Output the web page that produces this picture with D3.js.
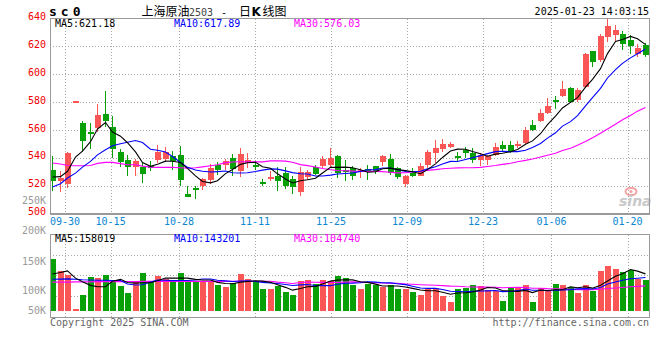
<!DOCTYPE html>
<html><head><meta charset="utf-8">
<script src="https://cdn.jsdelivr.net/npm/d3@7/dist/d3.min.js"></script>
<style>body{margin:0;background:#fff}svg{display:block}</style>
</head><body><svg id="c" width="660" height="360"></svg>
<script>
// ---------- data ----------
const dates = ["09-26","09-27","09-30","10-08","10-09","10-10","10-11","10-14","10-15","10-16",
"10-17","10-18","10-21","10-22","10-23","10-24","10-25","10-28","10-29","10-30",
"10-31","11-01","11-04","11-05","11-06","11-07","11-08","11-11","11-12","11-13",
"11-14","11-15","11-18","11-19","11-20","11-21","11-22","11-25","11-26","11-27",
"11-28","11-29","12-02","12-03","12-04","12-05","12-06","12-09","12-10","12-11",
"12-12","12-13","12-16","12-17","12-18","12-19","12-20","12-23","12-24","12-25",
"12-26","12-27","12-30","12-31","01-02","01-03","01-06","01-07","01-08","01-09",
"01-10","01-13","01-14","01-15","01-16","01-17","01-20","01-21","01-22","01-23"];
const open = [531.4,523.1,521.4,580.5,565.0,558.3,561.2,571.6,562.2,544.5,
538.6,533.6,533.5,533.8,538.1,539.0,541.4,542.1,514.3,518.1,
519.5,524.3,535.0,535.0,540.2,530.2,536.2,534.5,522.4,524.8,
526.7,529.0,525.0,515.2,526.0,533.3,534.3,535.0,541.4,531.4,
532.6,529.5,531.9,533.8,536.9,539.3,532.6,521.4,529.0,527.1,
535.0,543.3,546.4,547.6,541.0,545.7,543.3,538.1,538.1,542.1,
549.3,549.3,548.6,550.5,563.6,566.4,572.4,581.4,584.3,590.2,
581.4,591.0,616.4,610.0,626.7,627.9,629.0,624.8,614.8,620.7];
const high = [541.4,530.7,544.3,580.5,566.5,565.0,578.6,587.6,570.0,546.0,
541.8,538.8,536.5,537.9,549.3,547.6,545.2,548.6,519.5,519.5,
525.5,535.7,536.7,539.3,542.9,546.9,543.3,537.4,525.0,530.2,
533.3,533.3,526.7,533.3,531.4,535.0,541.0,546.9,542.1,538.6,
533.8,532.6,535.0,534.3,542.1,542.6,533.3,527.9,532.6,536.2,
545.7,552.9,553.6,551.0,544.5,548.0,546.9,543.3,542.1,550.5,
551.7,551.7,552.4,562.4,567.1,574.8,582.6,584.3,595.0,591.0,
589.8,615.2,616.6,629.0,639.8,635.0,630.9,627.9,621.9,622.4];
const low = [516.0,515.2,518.3,580.5,544.5,546.0,558.2,562.4,540.0,533.3,
526.7,526.7,522.2,530.2,536.2,536.7,531.4,519.5,511.8,510.5,
516.7,521.4,527.9,531.4,527.1,526.2,532.6,531.4,519.5,523.1,
516.0,517.6,514.3,512.9,524.3,527.9,532.6,532.6,525.5,523.1,
524.3,525.5,524.3,528.6,533.8,527.9,524.8,519.0,526.2,526.7,
532.6,536.2,544.5,546.7,537.4,539.8,536.2,533.8,535.0,541.0,
544.5,543.3,546.9,550.0,559.5,565.5,571.4,575.0,583.3,579.0,
580.2,590.2,605.2,608.8,623.1,623.1,617.1,614.8,612.4,612.4];
const close = [523.1,525.2,543.3,580.5,551.7,557.1,570.7,566.6,546.5,536.7,
533.5,537.9,528.1,533.0,544.5,544.5,537.4,523.8,511.8,517.4,
524.5,532.6,531.4,537.4,532.1,542.9,538.6,533.1,521.4,526.2,
523.1,520.0,518.8,529.5,529.5,528.6,539.0,539.5,529.0,530.2,
526.7,531.4,530.7,530.7,541.0,529.0,526.0,527.1,526.7,533.8,
543.8,546.9,550.0,550.0,540.5,543.3,538.6,542.1,541.0,548.1,
546.2,544.5,550.0,560.0,560.0,571.9,577.1,580.5,589.3,580.2,
588.6,614.8,608.8,627.5,634.3,632.1,621.9,620.0,618.8,613.6];
const volume = [222800,171000,153800,7300,67700,145200,140900,153800,128000,106500,
76300,128000,162500,128000,149600,136600,123700,162500,128000,123700,
123700,123700,110800,102100,119400,158200,136600,128000,93500,93500,
106500,80600,67700,128000,132300,115100,132300,129300,149600,140900,
110800,93500,115100,110800,102100,110800,93500,93500,80600,67700,
93500,93500,63400,37500,93500,97800,110800,106500,89200,84900,
41800,102100,97800,110800,37500,97800,89200,115100,110800,102100,
76300,110800,84900,172400,192700,179700,166800,175400,136600,133600];
// moving-average values at the start of the window (their earlier history is off-chart)
const ma5Lead = [526.2,526.5,530.3,540.5];
const ma10Lead = [519.0,521.4,525.5,529.0,533.3,537.4,542.1,545.7,548.6];
const ma30Lead = [536.3,535.5,534.5,534.3,534.3,534.5,536.0,536.7,536.7,535.8,535.0,535.0,534.0,533.3,533.1,
533.1,533.1,532.8,532.6,532.8,533.5,534.3,535.0,536.5,537.0,537.1,537.1,537.1,537.1];
const vma5Lead = [158000,164000,171000,140000];
const vma10Lead = [135000,136000,137000,135000,133000,132000,131000,131000,130000];
const vma30Lead = [123000,123000,123000,124000,124000,124000,125000,125000,125000,125000,125000,125000,126000,126000,126000,
126000,126000,126000,126000,126000,126000,126000,126000,126000,127000,127000,127000,127000,127000];
const priceTicks = [640,620,600,580,560,540,520,500];
const dateTicks = ["09-30","10-15","10-28","11-11","11-25","12-09","12-23","01-06","01-20"];
const volTickValues = [250,200,150,100,50];
const volTickLabels = ["250K","200K","150K","100K","50K"];
const priceLegend = ["MA5:621.18","MA10:617.89","MA30:576.03"];
const volLegend = ["MA5:158019","MA10:143201","MA30:104740"];
const titleParts = ["上海原油","2503","-","日","K","线图"];
const timeStamp = "2025-01-23 14:03:15";

// ---------- helpers ----------
function movingAvg(src, n, lead){
  return src.map((_, i) => i < lead.length ? lead[i] : d3.mean(src.slice(i - n + 1, i + 1)));
}
const ma5 = movingAvg(close, 5, ma5Lead), ma10 = movingAvg(close, 10, ma10Lead), ma30 = movingAvg(close, 30, ma30Lead);
const vma5 = movingAvg(volume, 5, vma5Lead), vma10 = movingAvg(volume, 10, vma10Lead), vma30 = movingAvg(volume, 30, vma30Lead);

const RED = "#fb5656", GREEN = "#07a107";
const MONO = "'DejaVu Sans Mono', monospace";
const svg = d3.select("#c");
const idx = d3.range(dates.length);

const x = d3.scaleBand().domain(idx).range([50, 648.5]).paddingInner(0.2);
const bw = 6;
const L = i => Math.round(x(i));
const cx = i => L(i) + 2.5;
const y = d3.scaleLinear().domain([500, 640]).range([213.5, 18.5]);
const vy = d3.scaleLinear().domain([0, 330000]).range([310.7, 234]);
const gx = d3.scaleLinear().domain([2, 76]).range([65, 627.5]);   // date grid positions
const volLabelY = d3.scaleLinear().domain([250, 200, 150, 100, 50]).range([204, 234, 265, 294, 314]);
const volGrid = d3.scaleLinear().domain([0, 4]).range([234, 316]);

const P = {l: 50, r: 650, t: 18.5, b: 213.5};
const V = {t: 234.5, b: 317.5};

// ---------- grids ----------
const g = svg.append("g").attr("stroke", "#a8a8a8").attr("stroke-dasharray", "1,2").attr("shape-rendering", "crispEdges");
priceTicks.filter(t => t < 640 && t > 500).forEach(t => {
  const yy = Math.round(y(t)) + 0.5;
  g.append("line").attr("x1", P.l).attr("x2", P.r).attr("y1", yy).attr("y2", yy);
});
[1, 2, 3].forEach(k => {
  const yy = Math.round(volGrid(k)) + 0.5;
  g.append("line").attr("x1", P.l).attr("x2", P.r).attr("y1", yy).attr("y2", yy);
});
dateTicks.forEach(d => {
  const xx = Math.round(gx(dates.indexOf(d))) + 0.5;
  g.append("line").attr("x1", xx).attr("x2", xx).attr("y1", P.t).attr("y2", P.b);
  g.append("line").attr("x1", xx).attr("x2", xx).attr("y1", V.t).attr("y2", V.b);
});

// ---------- watermark ----------
const wm = svg.append("g");
wm.append("ellipse").attr("cx", 631).attr("cy", 191.5).attr("rx", 5.5).attr("ry", 3.6)
  .attr("fill", "none").attr("stroke", "#f3a3a3").attr("stroke-width", 2);
wm.append("circle").attr("cx", 631).attr("cy", 191.5).attr("r", 1.6).attr("fill", "#f3a3a3");
wm.append("text").attr("x", 619).attr("y", 206).text("sina")
  .attr("font-family", "'DejaVu Sans', sans-serif").attr("font-weight", "bold").attr("font-style", "italic")
  .attr("font-size", 14).attr("fill", "#c9c9c9");

// ---------- candles ----------
const cg = svg.append("g").attr("shape-rendering", "crispEdges");
idx.forEach(i => {
  const up = close[i] >= open[i];
  const col = up ? RED : GREEN;
  const xl = L(i);
  cg.append("rect").attr("x", xl + 2).attr("width", 1)
    .attr("y", Math.round(y(high[i]))).attr("height", Math.max(1, Math.round(y(low[i])) - Math.round(y(high[i]))))
    .attr("fill", col);
  const top = Math.round(y(Math.max(open[i], close[i])));
  const bot = Math.round(y(Math.min(open[i], close[i])));
  cg.append("rect").attr("x", xl).attr("width", bw).attr("y", top).attr("height", Math.max(1.5, bot - top)).attr("fill", col);
  // volume
  const vt = Math.round(vy(volume[i]));
  cg.append("rect").attr("x", xl).attr("width", bw).attr("y", vt).attr("height", Math.round(vy(0)) - vt).attr("fill", col);
});

// ---------- MA lines ----------
function drawLine(arr, scale, color){
  svg.append("path").datum(idx)
    .attr("d", d3.line().x(i => cx(i)).y(i => scale(arr[i])))
    .attr("fill", "none").attr("stroke", color).attr("stroke-width", 1.1);
}
drawLine(ma30, y, "#ff00ff"); drawLine(ma10, y, "#0000ff"); drawLine(ma5, y, "#000000");
drawLine(vma30, vy, "#ff00ff"); drawLine(vma10, vy, "#0000ff"); drawLine(vma5, vy, "#000000");

// ---------- frames ----------
const fr = svg.append("g").attr("fill", "none").attr("stroke", "#9a9a9a").attr("shape-rendering", "crispEdges");
fr.append("rect").attr("x", P.l + 0.5).attr("y", P.t).attr("width", P.r - P.l - 1).attr("height", P.b - P.t);
fr.append("line").attr("x1", P.l).attr("x2", P.r).attr("y1", P.b + 1).attr("y2", P.b + 1);
fr.append("rect").attr("x", P.l + 0.5).attr("y", V.t).attr("width", P.r - P.l - 1).attr("height", V.b - V.t);

// ---------- text ----------
function txt(s, xx, yy, opt = {}){
  return svg.append("text").attr("x", xx).attr("y", yy).text(s)
    .attr("font-family", opt.family || MONO).attr("font-size", opt.size || 10)
    .attr("fill", opt.fill || "#000").attr("text-anchor", opt.anchor || "start")
    .attr("font-weight", opt.weight || "normal").attr("letter-spacing", opt.ls || 0);
}
priceTicks.forEach(t => txt(String(t), 46, y(t) + 1.6, {anchor: "end", fill: "#ee0000"}));
volTickValues.forEach((v, k) => txt(volTickLabels[k], 46, volLabelY(v), {anchor: "end", fill: "#9a9a9a"}));
dateTicks.forEach(d => txt(d, gx(dates.indexOf(d)), 225, {anchor: "middle", fill: "#0a86d2"}));

const legColors = ["#000000", "#0000ff", "#ff00ff"];
const legX = [55, 174, 294];
priceLegend.forEach((s, k) => txt(s, legX[k], 27, {fill: legColors[k]}));
volLegend.forEach((s, k) => txt(s, legX[k], 241.5, {fill: legColors[k]}));

txt("sc0", 49, 16, {size: 13, weight: "bold", ls: "4px"});
const CJK = "'Noto Sans CJK SC', sans-serif";
txt(titleParts[0], 141.5, 16, {family: CJK, size: 12});
txt(titleParts[1], 189, 16, {fill: "#444"});
txt(titleParts[2], 221, 15.5, {});
txt(titleParts[3], 239, 16, {family: CJK, size: 12});
txt(titleParts[4], 251.5, 16, {family: "'DejaVu Sans', sans-serif", size: 12, weight: "bold"});
txt(titleParts[5], 262.5, 16, {family: CJK, size: 12});
txt(timeStamp, 649, 15, {anchor: "end"});

txt("Copyright 2025 SINA.COM", 50, 325.5, {fill: "#666"});
txt("http://finance.sina.com.cn", 649, 325.5, {anchor: "end", fill: "#666"});
</script></body></html>
